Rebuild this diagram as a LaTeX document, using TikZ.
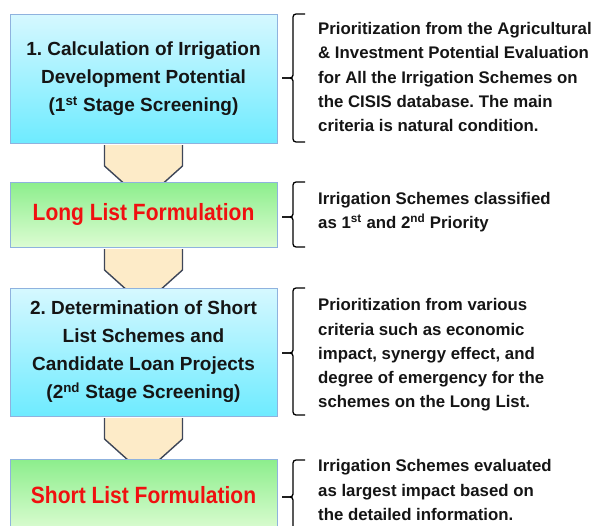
\documentclass[tikz,border=0pt]{standalone}
\usepackage{fontspec}
\setmainfont{Liberation Sans}
\usetikzlibrary{calc}
\definecolor{cyanTop}{HTML}{D6F8FF}
\definecolor{cyanBot}{HTML}{6EEBFF}
\definecolor{greenTop}{HTML}{8CEE8C}
\definecolor{greenBot}{HTML}{DCFCD2}
\definecolor{boxLine}{HTML}{8FB2DE}
\definecolor{arrowFill}{HTML}{FDEBC8}
\definecolor{arrowLine}{HTML}{3E4658}
\definecolor{txt}{HTML}{151515}
\definecolor{redTxt}{HTML}{F01010}
\tikzset{
  stepbox/.style={rectangle, draw=boxLine, line width=1pt, minimum width=267pt, inner sep=0pt, align=center, text=txt, font=\bfseries\fontsize{19}{28}\selectfont},
  cyanbox/.style={stepbox, top color=cyanTop, bottom color=cyanBot},
  greenbox/.style={stepbox, top color=greenTop, bottom color=greenBot, text=redTxt, font=\bfseries\fontsize{21}{28}\selectfont},
  flowarrow/.style={fill=arrowFill, draw=arrowLine, line width=1.4pt, line join=round},
  notetext/.style={anchor=west, inner sep=0pt, align=left, text=txt, font=\bfseries\fontsize{16.8}{24.3}\selectfont},
  bracket/.style={draw=black, line width=1.3pt, rounded corners=3pt}
}
\newcommand{\flowarr}[1]{%
  \fill[arrowFill] ([xshift=-39pt,yshift=-2pt]#1) -- ++(0,21) -- ++(39,35) -- ++(39,-35) -- ++(0,-21) -- cycle;
  \draw[flowarrow] ([xshift=-39pt,yshift=-2pt]#1) -- ++(0,21) -- ++(39,35) -- ++(39,-35) -- ++(0,-21);}
\newcommand{\brk}[3]{%
  \draw[bracket] (305,#1) -- (293,#1) -- (293,#2) -- (282,#2);
  \draw[bracket] (282,#2) -- (293,#2) -- (293,#3) -- (305,#3);}
\begin{document}
\frenchspacing
\begin{tikzpicture}[x=1pt,y=-1pt]
\useasboundingbox (0,0) rectangle (591,525);
\clip (0,0) rectangle (591,525);
\fill[white] (0,0) rectangle (591,525);
% arrow start points (box bottoms)
\coordinate (a1) at (143.5,143);
\coordinate (a2) at (143.5,247);
\coordinate (a3) at (143.5,416);
\flowarr{a1}
\flowarr{a2}
\flowarr{a3}
% boxes
\node[cyanbox, minimum height=129pt] (b1) at (143.5,78.5) {1. Calculation of Irrigation\\Development Potential\\(1\textsuperscript{st} Stage Screening)};
\node[greenbox, minimum height=65pt] (b2) at (143.5,214.5) {\scalebox{1}[1.12]{Long List Formulation}};
\node[cyanbox, minimum height=128pt] (b3) at (143.5,352) {2. Determination of Short\\List Schemes and\\Candidate Loan Projects\\(2\textsuperscript{nd} Stage Screening)};
\node[greenbox, minimum height=72pt] (b4) at (143.5,495) {\scalebox{1}[1.12]{Short List Formulation}};
% brackets
\brk{14}{78}{142}
\brk{182}{217}{247}
\brk{288}{353}{415}
\brk{460}{497}{540}
% notes
\node[notetext] (t1) at (318,77) {Prioritization from the Agricultural\\\& Investment Potential Evaluation\\for All the Irrigation Schemes on\\the CISIS database. The main\\criteria is natural condition.};
\node[notetext] (t2) at (318,212.5) {Irrigation Schemes classified\\as 1\textsuperscript{st} and 2\textsuperscript{nd} Priority};
\node[notetext] (t3) at (318,355) {Prioritization from various\\criteria such as economic\\impact, synergy effect, and\\degree of emergency for the\\schemes on the Long List.};
\node[notetext] (t4) at (318,490) {Irrigation Schemes evaluated\\as largest impact based on\\the detailed information.};
\end{tikzpicture}
\end{document}
